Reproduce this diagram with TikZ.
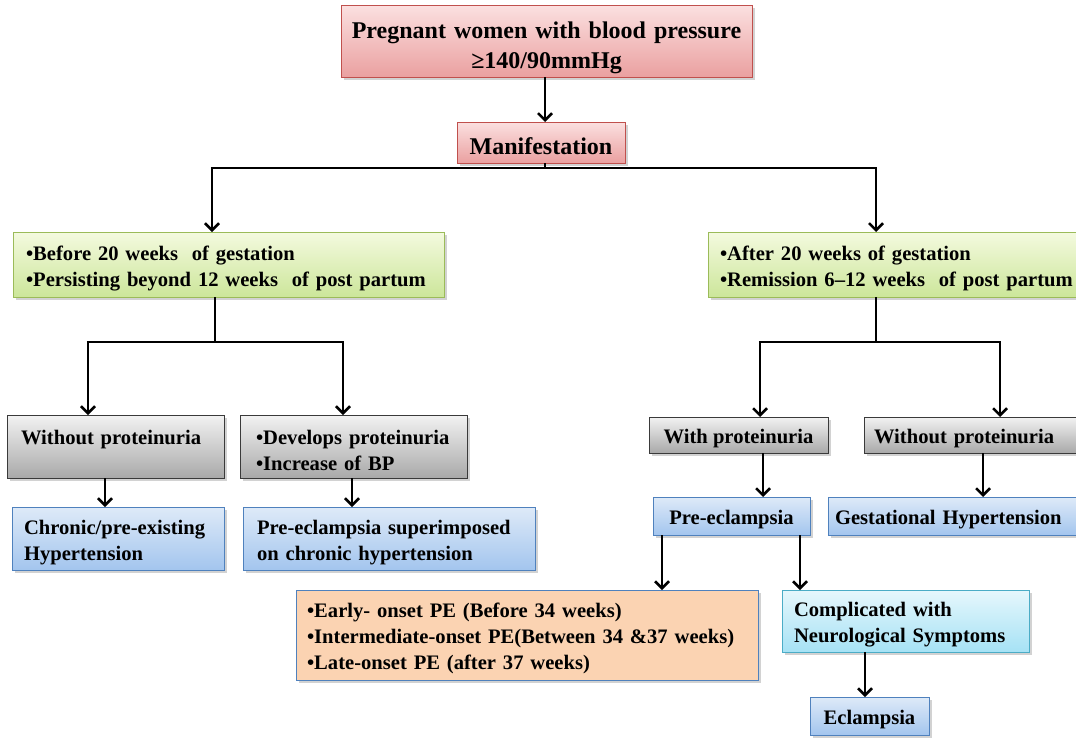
\documentclass[tikz,border=0pt]{standalone}
\usepackage{fontspec}
\setmainfont{Liberation Serif}
\usetikzlibrary{arrows.meta,shadows}
\definecolor{redtop}{HTML}{FBE0E0}
\definecolor{redbot}{HTML}{EAA0A0}
\definecolor{redbd}{HTML}{C0504D}
\definecolor{grntop}{HTML}{F4FADF}
\definecolor{grnbot}{HTML}{CCE69A}
\definecolor{grnbd}{HTML}{9BBB59}
\definecolor{gratop}{HTML}{F2F2F2}
\definecolor{grabot}{HTML}{A9A9A9}
\definecolor{grabd}{HTML}{3A3A3A}
\definecolor{blutop}{HTML}{DEEAF8}
\definecolor{blubot}{HTML}{A3C5EE}
\definecolor{blubd}{HTML}{4F81BD}
\definecolor{orafill}{HTML}{FBD3B2}
\definecolor{cyatop}{HTML}{E6F7FC}
\definecolor{cyabot}{HTML}{A6E2F5}
\definecolor{cyabd}{HTML}{4BACC6}
\tikzset{
  x={(1pt,0)}, y={(0,-1pt)},
  every node/.style={font=\bfseries\fontsize{20.6}{26}\selectfont, inner sep=0pt, outer sep=0pt},
  box/.style={draw, line width=1pt, anchor=north west, drop shadow={shadow xshift=2.5pt, shadow yshift=-2.5pt, opacity=0.35}, execute at begin node={\rule{0pt}{22pt}}},
  redbox/.style={box, draw=redbd, top color=redtop, bottom color=redbot},
  grnbox/.style={box, draw=grnbd, top color=grntop, bottom color=grnbot},
  grabox/.style={box, draw=grabd, top color=gratop, bottom color=grabot},
  blubox/.style={box, draw=blubd, top color=blutop, bottom color=blubot},
  orabox/.style={box, draw=blubd, fill=orafill},
  cyabox/.style={box, draw=cyabd, top color=cyatop, bottom color=cyabot},
  conn/.style={line width=2.5pt, black},
  arr/.style={conn, -{Straight Barb[length=7pt,width=14pt,line width=2.5pt]}},
}
\newcommand{\itm}{\textbullet}
\begin{document}
\begin{tikzpicture}
\useasboundingbox (0,0) rectangle (1076,737);
\clip (0,0) rectangle (1076,737);
\fill[white] (0,0) rectangle (1076,737);
% boxes
\node[redbox, minimum width=411pt, minimum height=72pt, text width=399pt, inner xsep=6pt, align=center, font=\bfseries\fontsize{24}{30}\selectfont, execute at begin node={\rule{0pt}{30pt}}] (top) at (341,5) {Pregnant women with blood pressure\\ ≥140/90mmHg};
\node[redbox, minimum width=168pt, minimum height=41pt, font=\bfseries\fontsize{24}{26}\selectfont, execute at begin node={\rule{0pt}{25pt}}] (man) at (457,122) {Manifestation};
\node[grnbox, minimum width=431pt, minimum height=65pt, text width=405pt, align=left, inner xsep=13pt] (gl) at (13,232) {\itm Before 20 weeks\ \ of gestation\\ \itm Persisting beyond 12 weeks\ \ of post partum};
\node[grnbox, minimum width=390pt, minimum height=65pt, text width=366pt, align=left, inner xsep=12pt] (gr) at (708,232) {\itm After 20 weeks of gestation\\ \itm Remission 6--12 weeks\ \ of post partum};
\node[grabox, minimum width=217pt, minimum height=63pt, text width=189pt, align=left, inner xsep=14pt] (g1) at (7,415) {Without proteinuria\\ \mbox{}};
\node[grabox, minimum width=227pt, minimum height=63pt, text width=195pt, align=left, inner xsep=16pt] (g2) at (240,415) {\itm Develops proteinuria\\ \itm Increase of BP};
\node[blubox, minimum width=212pt, minimum height=63pt, text width=188pt, align=left, inner xsep=12pt] (b1) at (12,507) {Chronic/pre-existing\\ Hypertension};
\node[blubox, minimum width=292pt, minimum height=63pt, text width=264pt, align=left, inner xsep=14pt] (b2) at (243,507) {Pre-eclampsia superimposed\\ on chronic hypertension};
\node[grabox, minimum width=179pt, minimum height=36pt] (g3) at (649,417) {With proteinuria};
\node[grabox, minimum width=220pt, minimum height=36pt, text width=200pt, inner xsep=10pt, align=left] (g4) at (864,417) {Without proteinuria};
\node[blubox, minimum width=157pt, minimum height=38pt] (pe) at (653,497) {Pre-eclampsia};
\node[blubox, minimum width=254pt, minimum height=38pt, text width=240pt, inner xsep=7pt, align=left] (gh) at (828,497) {Gestational Hypertension};
\node[orabox, minimum width=462pt, minimum height=90pt, text width=440pt, align=left, inner xsep=11pt] (on) at (296,590) {\itm Early- onset PE (Before 34 weeks)\\ \itm Intermediate-onset PE(Between 34 \&37 weeks)\\ \itm Late-onset PE (after 37 weeks)};
\node[cyabox, minimum width=247pt, minimum height=62pt, text width=223pt, align=left, inner xsep=12pt] (neu) at (782,590) {Complicated with\\ Neurological Symptoms};
\node[blubox, minimum width=119pt, minimum height=38pt] (ecl) at (810,697) {Eclampsia};
% junction coordinates
\coordinate (j0) at (545,168);
\coordinate (jl) at (212,168);
\coordinate (jr) at (876,168);
\coordinate (bl) at (215,342);
\coordinate (bl1) at (88,342);
\coordinate (bl2) at (343,342);
\coordinate (br) at (876,342);
\coordinate (br1) at (760,342);
\coordinate (br2) at (1000,342);
\coordinate (c1) at (105,0);
\coordinate (c2) at (352,0);
\coordinate (c3) at (763,0);
\coordinate (c4) at (983,0);
\coordinate (c5) at (662,0);
\coordinate (c6) at (800,0);
\coordinate (c7) at (865,0);
\coordinate (c0) at (545,0);
% connectors
\draw[arr] (c0 |- top.south) -- (c0 |- man.north);
\draw[conn] (c0 |- man.south) -- (j0);
\draw[conn] ([xshift=-1.25pt]jl) -- ([xshift=1.25pt]jr);
\draw[arr] (jl) -- (jl |- gl.north);
\draw[arr] (jr) -- (jr |- gr.north);
\draw[conn] (bl |- gl.south) -- (bl);
\draw[conn] ([xshift=-1.25pt]bl1) -- ([xshift=1.25pt]bl2);
\draw[arr] (bl1) -- (bl1 |- g1.north);
\draw[arr] (bl2) -- (bl2 |- g2.north);
\draw[conn] (br |- gr.south) -- (br);
\draw[conn] ([xshift=-1.25pt]br1) -- ([xshift=1.25pt]br2);
\draw[arr] (br1) -- (br1 |- g3.north);
\draw[arr] (br2) -- (br2 |- g4.north);
\draw[arr] (c1 |- g1.south) -- (c1 |- b1.north);
\draw[arr] (c2 |- g2.south) -- (c2 |- b2.north);
\draw[arr] (c3 |- g3.south) -- (c3 |- pe.north);
\draw[arr] (c4 |- g4.south) -- (c4 |- gh.north);
\draw[arr] (c5 |- pe.south) -- (c5 |- on.north);
\draw[arr] (c6 |- pe.south) -- (c6 |- neu.north);
\draw[arr] (c7 |- neu.south) -- (c7 |- ecl.north);
\end{tikzpicture}
\end{document}
